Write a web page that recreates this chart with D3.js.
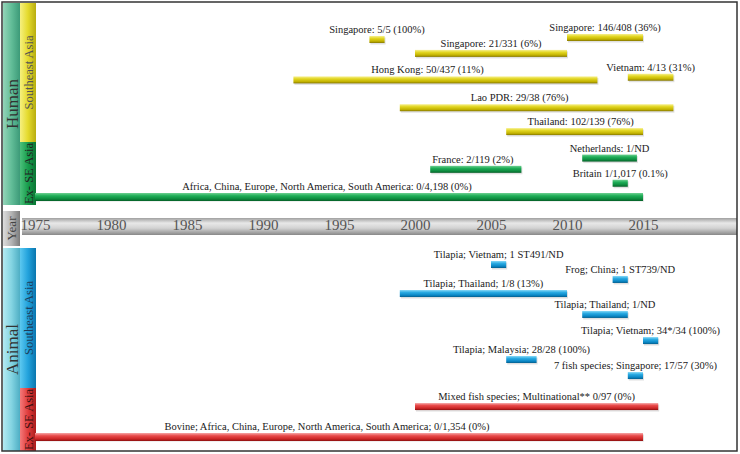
<!DOCTYPE html>
<html><head><meta charset="utf-8">
<script src="https://cdn.jsdelivr.net/npm/d3@7"></script>
<style>html,body{margin:0;padding:0;background:#fff}svg{display:block}</style>
</head><body>
<svg id="c" width="740" height="454"></svg>
<script>
// ---- data ----
const yearTicks = [1975, 1980, 1985, 1990, 1995, 2000, 2005, 2010, 2015];

const humanLabels = ["Singapore: 5/5 (100%)", "Singapore: 146/408 (36%)", "Singapore: 21/331 (6%)",
  "Hong Kong: 50/437 (11%)", "Vietnam: 4/13 (31%)", "Lao PDR: 29/38 (76%)", "Thailand: 102/139 (76%)",
  "Netherlands: 1/ND", "France: 2/119 (2%)", "Britain 1/1,017 (0.1%)",
  "Africa, China, Europe, North America, South America: 0/4,198 (0%)"];
const humanStart = [1997, 2010, 2000, 1992, 2014, 1999, 2006, 2011, 2001, 2013, 1975];
const humanEnd   = [1998, 2015, 2010, 2012, 2017, 2017, 2015, 2014.6, 2007, 2014, 2015];
const humanLane  = [0.15, 0, 1.2, 3.2, 3.0, 5.3, 7.1, 9.1, 9.95, 11.0, 12.0];
const humanRegion = ["se","se","se","se","se","se","se","ex","ex","ex","ex"];

const animalLabels = ["Tilapia; Vietnam; 1 ST491/ND", "Frog; China; 1 ST739/ND", "Tilapia; Thailand; 1/8 (13%)",
  "Tilapia; Thailand; 1/ND", "Tilapia; Vietnam; 34*/34 (100%)", "Tilapia; Malaysia; 28/28 (100%)",
  "7 fish species; Singapore; 17/57 (30%)", "Mixed fish species; Multinational** 0/97 (0%)",
  "Bovine; Africa, China, Europe, North America, South America; 0/1,354 (0%)"];
const animalStart = [2005, 2013, 1999, 2011, 2015, 2006, 2014, 2000, 1975];
const animalEnd   = [2006, 2014, 2010, 2014, 2016, 2008, 2015, 2016, 2015];
const animalLane  = [0, 1.13, 2.19, 3.77, 5.74, 7.17, 8.38, 10.72, 12.98];
const animalRegion = ["se","se","se","se","se","se","se","ex","ex"];

// ---- drawing ----
const svg = d3.select("#c");
const defs = svg.append("defs");
function vgrad(id, stops){ const g = defs.append("linearGradient").attr("id",id).attr("x1",0).attr("y1",0).attr("x2",0).attr("y2",1);
  stops.forEach(s=>g.append("stop").attr("offset",s[0]).attr("stop-color",s[1])); }
function hgrad(id, stops){ const g = defs.append("linearGradient").attr("id",id).attr("x1",0).attr("y1",0).attr("x2",1).attr("y2",0);
  stops.forEach(s=>g.append("stop").attr("offset",s[0]).attr("stop-color",s[1])); }

vgrad("barY", [[0,"#f6f090"],[0.35,"#e2d622"],[0.75,"#c2b200"],[1,"#857700"]]);
vgrad("barG", [[0,"#70d092"],[0.35,"#1fae58"],[0.75,"#0d8a3e"],[1,"#055e27"]]);
vgrad("barB", [[0,"#86d8f6"],[0.35,"#2aaae2"],[0.75,"#0a86c4"],[1,"#055e8c"]]);
vgrad("barR", [[0,"#f6a6a6"],[0.35,"#e84a4a"],[0.75,"#cc2626"],[1,"#8c1010"]]);
vgrad("yearBand", [[0,"#a0a0a0"],[0.3,"#e8e8e8"],[0.6,"#d2d2d2"],[1,"#888"]]);
hgrad("stHuman", [[0,"#94d4b8"],[0.5,"#62bd98"],[1,"#3c9a78"]]);
hgrad("stAnimal", [[0,"#b4eaf2"],[0.5,"#84d4e2"],[1,"#4eaec4"]]);
hgrad("stY", [[0,"#f6f080"],[0.5,"#e4da2c"],[1,"#b8ad10"]]);
hgrad("stG", [[0,"#4cc07c"],[0.5,"#179c4c"],[1,"#0a7634"]]);
hgrad("stB", [[0,"#5cc8f0"],[0.5,"#22a2dc"],[1,"#0a76ae"]]);
hgrad("stR", [[0,"#f47a7a"],[0.5,"#e03c3c"],[1,"#ac1c1c"]]);
hgrad("stYear", [[0,"#dcdcdc"],[0.5,"#b4b4b4"],[1,"#7c7c7c"]]);

const x = d3.scaleLinear().domain([1975, 2015]).range([35, 643]);
const yH = d3.scaleLinear().domain([0, 12]).range([34, 193]);
const yA = d3.scaleLinear().domain([0, 12.98]).range([261, 433]);
const barH = 7;
const serif = "'Liberation Serif', 'Times New Roman', serif";

// side strips
function strip(x0, y0, w, h, fill, label, fs, color){
  svg.append("rect").attr("x",x0).attr("y",y0).attr("width",w).attr("height",h).attr("fill",`url(#${fill})`);
  svg.append("text").attr("transform",`translate(${x0+w/2+fs*0.36},${y0+h/2}) rotate(-90)`)
    .attr("text-anchor","middle").attr("font-family",serif).attr("font-size",fs).attr("fill",color).text(label);
}
strip(3, 3, 17, 202, "stHuman", "Human", 17, "#333");
strip(20, 3, 16, 139, "stY", "Southeast Asia", 12.5, "#555");
strip(20, 142, 16, 63, "stG", "Ex- SE Asia", 12.5, "#222");
strip(3, 211, 17, 35, "stYear", "Year", 13, "#444");
strip(3, 248, 17, 203, "stAnimal", "Animal", 17, "#333");
strip(20, 248, 16, 140, "stB", "Southeast Asia", 12.5, "#1c3e5c");
strip(20, 388, 16, 63, "stR", "Ex- SE Asia", 12.5, "#3a1010");

// year band + axis
svg.append("rect").attr("x",22).attr("y",218).attr("width",715).attr("height",17).attr("fill","url(#yearBand)");
const ax = svg.append("g").attr("transform","translate(0,218)")
  .call(d3.axisBottom(x).tickValues(yearTicks).tickFormat(d3.format("d")).tickSize(0).tickPadding(1));
ax.select(".domain").remove();
ax.selectAll("text").attr("font-family",serif).attr("font-size",15).attr("fill","#555").attr("dy","0.72em");

// bars
const labelShift = {"Hong Kong: 50/437 (11%)": -18, "Lao PDR: 29/38 (76%)": -17,
  "Africa, China, Europe, North America, South America: 0/4,198 (0%)": -12,
  "Bovine; Africa, China, Europe, North America, South America; 0/1,354 (0%)": -12,
  "Thailand: 102/139 (76%)": 6, "France: 2/119 (2%)": -3};

function drawBars(labels, starts, ends, lanes, regions, y, seFill, exFill){
  const data = labels.map((l,i)=>({label:l, s:starts[i], e:ends[i], lane:lanes[i], r:regions[i]}));
  const g = svg.append("g");
  g.selectAll("rect.sh").data(data).join("rect").attr("class","sh")
    .attr("x",d=>x(d.s)+1).attr("y",d=>y(d.lane)+1.5).attr("width",d=>x(d.e)-x(d.s)).attr("height",barH)
    .attr("fill","#000").attr("opacity",0.12);
  g.selectAll("rect.bar").data(data).join("rect").attr("class","bar")
    .attr("x",d=>x(d.s)).attr("y",d=>y(d.lane)).attr("width",d=>x(d.e)-x(d.s)).attr("height",d=>d.s===1975?8:barH)
    .attr("fill",d=>`url(#${d.r==="se"?seFill:exFill})`);
  g.selectAll("text").data(data).join("text")
    .attr("x",d=>(x(d.s)+x(d.e))/2 + (labelShift[d.label]||0)).attr("y",d=>y(d.lane)-3)
    .attr("text-anchor","middle").attr("font-family",serif).attr("font-size",10.5).attr("fill","#1a1a1a")
    .text(d=>d.label);
}
drawBars(humanLabels, humanStart, humanEnd, humanLane, humanRegion, yH, "barY", "barG");
drawBars(animalLabels, animalStart, animalEnd, animalLane, animalRegion, yA, "barB", "barR");

// frame
svg.append("rect").attr("x",2).attr("y",2).attr("width",735).attr("height",449)
  .attr("fill","none").attr("stroke","#333").attr("stroke-width",1.5);
</script>
</body></html>
